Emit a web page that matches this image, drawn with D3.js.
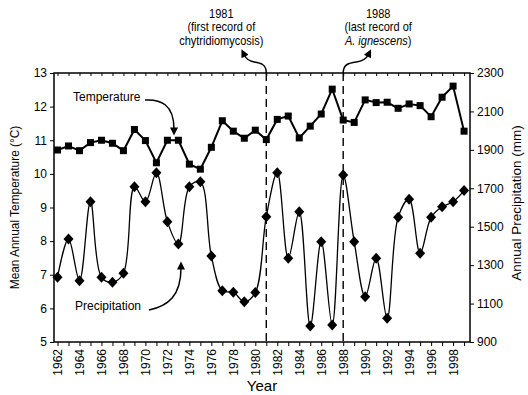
<!DOCTYPE html>
<html>
<head>
<meta charset="utf-8">
<script src="https://cdn.jsdelivr.net/npm/d3@7"></script>
<style>
  body { margin: 0; background: #fff; }
  svg { font-family: 'Liberation Sans', Arial, sans-serif; }
</style>
</head>
<body>
<svg id="chart" width="528" height="395"></svg>
<script>
var years = [1962, 1963, 1964, 1965, 1966, 1967, 1968, 1969, 1970, 1971,
  1972, 1973, 1974, 1975, 1976, 1977, 1978, 1979, 1980, 1981,
  1982, 1983, 1984, 1985, 1986, 1987, 1988, 1989, 1990, 1991,
  1992, 1993, 1994, 1995, 1996, 1997, 1998, 1999]

var temperature = [10.71, 10.83, 10.69, 10.93, 11.0, 10.91, 10.69, 11.32, 10.99, 10.33,
  11.0, 11.0, 10.29, 10.14, 10.79, 11.58, 11.27, 11.06, 11.30, 11.02,
  11.62, 11.72, 11.07, 11.42, 11.78, 12.52, 11.60, 11.53, 12.2, 12.12,
  12.13, 11.95, 12.08, 12.03, 11.70, 12.28, 12.61, 11.27]

var precipitation = [1237, 1436, 1219, 1630, 1237, 1211, 1258, 1708, 1630, 1781,
  1526, 1410, 1708, 1734, 1348, 1167, 1159, 1110, 1157, 1552,
  1781, 1336, 1578, 983, 1422, 989, 1769, 1422, 1136, 1336,
  1023, 1549, 1643, 1362, 1549, 1604, 1630, 1688]

var tempTicks = [5, 6, 7, 8, 9, 10, 11, 12, 13]
var precipTicks = [900, 1100, 1300, 1500, 1700, 1900, 2100, 2300]

var events = [
  { year: 1981, lines: ['1981', '(first record of', 'chytridiomycosis)'] },
  { year: 1988, lines: ['1988', '(last record of', 'A. ignescens)'] }
]

var svg = d3.select('#chart'),
  plotLeft = 54, plotRight = 470, plotTop = 73, plotBottom = 342

var x = d3.scaleLinear().domain([1961.68, 1999.54]).range([plotLeft, plotRight])
var yT = d3.scaleLinear().domain([5, 13]).range([plotBottom, plotTop])
var yP = d3.scaleLinear().domain([900, 2300]).range([plotBottom, plotTop])

var defs = svg.append('defs')
defs.append('marker')
  .attr('id', 'head')
  .attr('viewBox', '0 0 10 10')
  .attr('refX', 2).attr('refY', 5)
  .attr('markerWidth', 10).attr('markerHeight', 8)
  .attr('markerUnits', 'userSpaceOnUse')
  .attr('orient', 'auto')
  .append('path').attr('d', 'M0,0 L10,5 L0,10 Z').attr('fill', '#000')

// dashed event lines
svg.selectAll('.event')
  .data(events)
  .enter().append('line')
  .attr('class', 'event')
  .attr('x1', function(d) { return x(d.year) })
  .attr('x2', function(d) { return x(d.year) })
  .attr('y1', plotTop).attr('y2', plotBottom)
  .attr('stroke', '#000')
  .attr('stroke-width', 1.4)
  .attr('stroke-dasharray', '8,5')

// axes
var gl = svg.append('g').attr('transform', 'translate(' + plotLeft + ',0)')
  .call(d3.axisLeft(yT).tickValues(tempTicks).tickSize(4).tickPadding(3))
var gr = svg.append('g').attr('transform', 'translate(' + plotRight + ',0)')
  .call(d3.axisRight(yP).tickValues(precipTicks).tickSize(4).tickPadding(3)
    .tickFormat(d3.format('d')))
var gb = svg.append('g').attr('transform', 'translate(0,' + plotBottom + ')')
  .call(d3.axisBottom(x).tickValues(years).tickSize(4).tickPadding(6)
    .tickFormat(function(d) { return d % 2 === 0 ? d : '' }))
var gt = svg.append('g').attr('transform', 'translate(0,' + plotTop + ')')
  .call(d3.axisTop(x).tickValues(years).tickSize(-3).tickFormat(''))

;[gl, gr, gb, gt].forEach(function(g) {
  g.select('.domain').remove()
  g.selectAll('.tick line').attr('stroke', '#000').attr('stroke-width', 1)
  g.selectAll('.tick text').attr('font-size', 12).attr('fill', '#000')
    .attr('font-family', "'Liberation Sans', Arial, sans-serif")
})

gb.selectAll('.tick text')
  .attr('transform', 'rotate(-90)')
  .attr('text-anchor', 'end')
  .attr('x', -7).attr('y', 0).attr('dy', '0.35em')

// frame
svg.append('rect')
  .attr('x', plotLeft).attr('y', plotTop)
  .attr('width', plotRight - plotLeft).attr('height', plotBottom - plotTop)
  .attr('fill', 'none').attr('stroke', '#000').attr('stroke-width', 1.5)

// precipitation: smoothed line with diamonds
svg.append('path')
  .datum(years)
  .attr('fill', 'none').attr('stroke', '#000').attr('stroke-width', 1.3)
  .attr('d', d3.line()
    .curve(d3.curveCatmullRom.alpha(0.5))
    .x(function(d) { return x(d) })
    .y(function(d, i) { return yP(precipitation[i]) }))

svg.selectAll('.diamond')
  .data(years)
  .enter().append('path')
  .attr('class', 'diamond')
  .attr('d', 'M0,-5.5 L5,0 L0,5.5 L-5,0 Z')
  .attr('transform', function(d, i) { return 'translate(' + x(d) + ',' + yP(precipitation[i]) + ')' })
  .attr('fill', '#000')

// temperature: straight line with squares
svg.append('path')
  .datum(years)
  .attr('fill', 'none').attr('stroke', '#000').attr('stroke-width', 2)
  .attr('d', d3.line()
    .x(function(d) { return x(d) })
    .y(function(d, i) { return yT(temperature[i]) }))

svg.selectAll('.square')
  .data(years)
  .enter().append('rect')
  .attr('class', 'square')
  .attr('x', function(d) { return x(d) - 3.5 })
  .attr('y', function(d, i) { return yT(temperature[i]) - 3.5 })
  .attr('width', 7).attr('height', 7)
  .attr('fill', '#000')

// axis titles
svg.append('text')
  .attr('transform', 'translate(19,' + (plotTop + plotBottom) / 2 + ') rotate(-90) scale(0.88,1)')
  .attr('text-anchor', 'middle')
  .attr('font-size', 13.5)
  .text('Mean Annual Temperature (°C)')

svg.append('text')
  .attr('transform', 'translate(521,203) rotate(-90)')
  .attr('text-anchor', 'middle')
  .attr('font-size', 13.5)
  .text('Annual Precipitation (mm)')

svg.append('text')
  .attr('x', 262).attr('y', 391)
  .attr('text-anchor', 'middle')
  .attr('font-size', 15)
  .text('Year')

// event annotations
var ann = svg.selectAll('.ann')
  .data(events)
  .enter().append('g')
  .attr('class', 'ann')
  .attr('transform', function(d) { return 'translate(' + (x(d.year) - (d.year === 1981 ? 45 : -35)) + ',0) scale(0.88,1)' })

ann.each(function(d) {
  var t = d3.select(this).append('text')
    .attr('text-anchor', 'middle')
    .attr('font-size', 12.5)
  d.lines.forEach(function(s, k) {
    var ts = t.append('tspan').attr('x', 0).attr('y', 18 + k * 13.5)
    if (s.indexOf('A. ignescens') === 0) {
      ts.append('tspan').attr('font-style', 'italic').text('A. ignescens')
      ts.append('tspan').text(')')
    } else {
      ts.text(s)
    }
  })
})

// curved arrows
var arrows = [
  'M' + x(1981) + ',' + plotTop + ' C' + (x(1981)) + ',64 ' + (x(1981) - 6) + ',63 ' + (x(1981) - 12) + ',62 C' + (x(1981) - 18) + ',61 ' + (x(1981) - 20) + ',59 ' + (x(1981) - 22) + ',55',
  'M' + x(1988) + ',' + plotTop + ' C' + (x(1988)) + ',64 ' + (x(1988) + 6) + ',63 ' + (x(1988) + 13) + ',62 C' + (x(1988) + 20) + ',61 ' + (x(1988) + 23) + ',59 ' + (x(1988) + 25) + ',55',
  'M145,100 C160,99 174,104 174,129',
  'M149,310 C168,306 181,296 181,268'
]

svg.selectAll('.arrow')
  .data(arrows)
  .enter().append('path')
  .attr('class', 'arrow')
  .attr('d', function(d) { return d })
  .attr('fill', 'none').attr('stroke', '#000').attr('stroke-width', 1.5)
  .attr('marker-end', 'url(#head)')

// series labels
svg.append('text').attr('x', 73).attr('y', 101).attr('font-size', 12).text('Temperature')
svg.append('text').attr('x', 75).attr('y', 310).attr('font-size', 12).text('Precipitation')
</script>
</body>
</html>
